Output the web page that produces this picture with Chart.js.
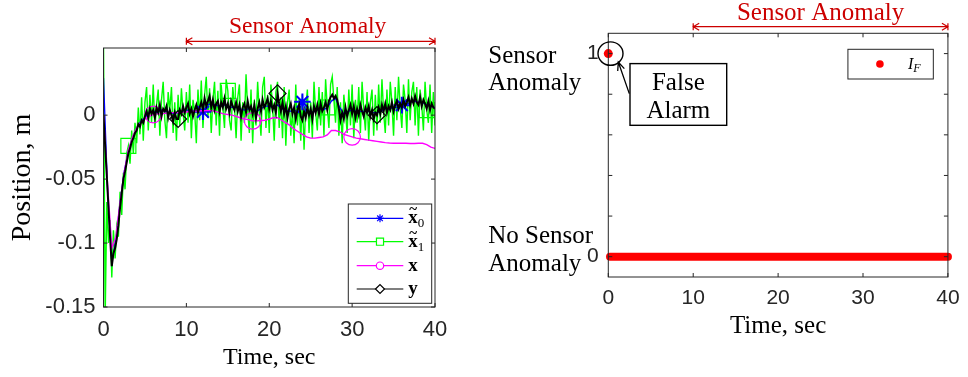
<!DOCTYPE html>
<html>
<head>
<meta charset="utf-8">
<script src="https://cdn.jsdelivr.net/npm/chart.js@4.4.0/dist/chart.umd.min.js"></script>
<style>
  html, body { margin: 0; padding: 0; background: #fff; }
  #wrap { position: relative; width: 968px; height: 377px; overflow: hidden; }
  canvas { position: absolute; top: 0; }
  #posChart { left: 0; }
  #flagChart { left: 470px; }
</style>
</head>
<body>
<div id="wrap">
  <canvas id="posChart" width="470" height="377"></canvas>
  <canvas id="flagChart" width="498" height="377"></canvas>
</div>
<script>
const timeTicks = [0, 10, 20, 30, 40]
const anomalyStart = 10
const anomalyEnd = 40

// position traces: x1 and y sampled every 0.2 s, x0 and x every 0.5 s
const fineStep = 0.2
const coarseStep = 0.5

const x0Est = [
  0.029, -0.06, -0.115, -0.098,
  -0.068, -0.044, -0.028, -0.018,
  -0.01, -0.005, -0.002, 0.002,
  0.003, 0.002, 0.004, 0.003,
  0.002, 0.001, 0.002, 0.003,
  0.004, 0.004, 0.003, 0.004,
  0.0026, 0.008, 0.009, 0.008,
  0.007, 0.008, 0.007, 0.006,
  0.006, 0.005, 0.004, 0.005,
  0.004, 0.003, 0.005, 0.007,
  0.007, 0.006, 0.008, 0.005,
  0.004, 0.003, 0.004, 0.002,
  0.0104, 0.002, 0.002, 0.003,
  0.005, 0.004, 0.006, 0.011,
  0.013, 0.006, 0.001, 0.003,
  0.004, 0.003, 0.003, 0.003,
  0.003, 0.002, 0.002, 0.003,
  0.005, 0.005, 0.006, 0.006,
  0.0078, 0.008, 0.01, 0.011,
  0.01, 0.01, 0.008, 0.007,
  0.006
]

const x1Est = [
  0.06, -0.16, -0.068, -0.1, -0.082, -0.127, -0.09, -0.112, -0.087, -0.095,
  -0.06, -0.078, -0.045, -0.058, -0.03, -0.024, -0.038, -0.012, -0.03, -0.006,
  -0.022, 0.006, -0.015, 0.014, -0.02, 0.01, 0.022, -0.012, 0.016, -0.006,
  0.024, -0.01, 0.008, 0.02, -0.016, 0.012, 0.026, -0.004, -0.018, 0.018,
  0.004, 0.022, -0.014, 0.01, -0.02, 0.016, -0.008, 0.021, 0.002, -0.012,
  0.018, -0.006, 0.024, -0.018, 0.012, 0.003, -0.022, 0.02, -0.004, 0.027,
  -0.01, 0.016, 0.03, -0.002, 0.021, -0.014, 0.012, 0.026, -0.008, 0.019,
  -0.016, 0.024, 0.006, -0.01, 0.028, 0.019, -0.004, -0.012, 0.022, 0.008,
  -0.018, 0.014, 0.024, -0.02, 0.01, -0.006, 0.032, 0.004, -0.014, 0.02,
  -0.022, 0.012, -0.008, 0.026, 0.002, -0.016, 0.022, 0.03, -0.01, 0.016,
  -0.014, 0.024, 0.008, -0.02, 0.018, 0.026, -0.01, 0.014, -0.018, 0.022,
  -0.024, 0.01, 0.02, -0.016, 0.004, -0.022, 0.024, -0.008, 0.012, -0.02,
  0.016, -0.027, 0.006, 0.02, -0.014, 0.01, -0.018, 0.026, 0.002, -0.012,
  0.022, -0.008, 0.018, -0.016, 0.028, 0.006, -0.01, 0.024, 0.03, 0.012,
  -0.006, 0.022, -0.016, 0.01, -0.022, 0.016, 0.002, -0.014, 0.02, -0.008,
  0.024, -0.018, 0.012, -0.006, 0.022, -0.014, 0.026, 0.004, -0.012, 0.018,
  -0.02, 0.01, 0.02, -0.016, 0.016, -0.012, 0.024, -0.006, 0.028, 0.002,
  -0.014, 0.02, -0.008, 0.026, 0.01, -0.016, 0.022, -0.004, 0.03, 0.006,
  -0.01, 0.024, 0.012, -0.014, 0.028, -0.004, 0.018, 0.026, -0.008, 0.022,
  -0.016, 0.02, 0.008, -0.012, 0.026, 0.004, -0.006, 0.024, -0.014, 0.018,
  -0.008
]

const xTrue = [
  0, -0.055, -0.104, -0.095,
  -0.068, -0.045, -0.027, -0.017,
  -0.01, -0.006, -0.003, -0.001,
  0.0005, 0.001, 0.001, 0.0015,
  0.002, 0.002, 0.002, 0.0022,
  0.0025, 0.003, 0.003, 0.0032,
  0.0034, 0.0035, 0.0035, 0.003,
  0.002, 0.001, 0.0005, 0,
  -0.001, -0.002, -0.003, -0.0035,
  -0.0045, -0.0045, -0.0042, -0.004,
  -0.003, -0.002, -0.002, -0.004,
  -0.006, -0.008, -0.011, -0.013,
  -0.015, -0.017, -0.018, -0.018,
  -0.0175, -0.017, -0.0155, -0.012,
  -0.012, -0.013, -0.015, -0.016,
  -0.017, -0.018, -0.0185, -0.019,
  -0.0195, -0.02, -0.0205, -0.021,
  -0.0215, -0.0218, -0.022, -0.022,
  -0.022, -0.022, -0.0222, -0.0222,
  -0.022, -0.022, -0.023, -0.025,
  -0.026
]

const yMeas = [
  0, -0.024, -0.048, -0.072, -0.096, -0.118, -0.108, -0.104, -0.097, -0.086,
  -0.072, -0.061, -0.05, -0.044, -0.037, -0.03, -0.026, -0.021, -0.018, -0.014,
  -0.012, -0.007, -0.009, -0.004, -0.006, -0.001, 0.003, -0.002, 0.005, 0.001,
  0.004, -0.002, 0.006, 0.002, 0.008, -0.001, 0.005, 0.003, 0.007, -0.002,
  0.004, 0, -0.005, 0.002, -0.003, -0.003, 0.004, 0.001, 0.007, 0.002,
  0.006, 0.009, 0.001, 0.005, -0.001, 0.004, 0.008, 0.002, 0.006, 0.01,
  0.004, 0.013, 0.007, 0.011, 0.015, 0.006, 0.012, 0.004, 0.009, 0.011,
  0.003, 0.01, 0.006, 0.013, 0.005, 0.009, 0.002, 0.011, 0.007, 0.004,
  0.01, 0.003, 0.008, -0.001, 0.006, 0.009, 0.002, 0.011, 0.004, 0.007,
  0.001, 0.008, -0.002, 0.005, 0.01, 0.003, 0.012, 0.006, 0.009, 0.013,
  0.005, 0.011, 0.004, 0.008, 0.002, 0.017, 0.009, 0.003, 0.01, 0.001,
  0.007, -0.002, 0.005, 0.009, 0.001, 0.006, -0.003, 0.004, 0.008, -0.001,
  -0.004, 0.003, -0.002, 0.006, 0, 0.005, -0.003, 0.007, 0.002, 0.008,
  0.001, 0.009, 0.003, 0.006, 0.01, 0.004, 0.011, 0.014, 0.016, 0.013,
  0.015, 0.012, 0.005, -0.004, 0.002, -0.003, 0.006, -0.001, 0.004, 0.008,
  0.001, 0.007, -0.002, 0.005, 0, 0.008, 0.003, -0.001, 0.006, 0.002,
  0.007, -0.001, 0.004, -0.003, 0.002, 0, 0.006, 0.001, 0.008, 0.003,
  0.009, 0.002, 0.007, 0.004, 0.01, 0.003, 0.008, 0.011, 0.005, 0.009,
  0.006, 0.012, 0.007, 0.01, 0.014, 0.008, 0.013, 0.009, 0.015, 0.01,
  0.008, 0.014, 0.007, 0.012, 0.009, 0.005, 0.011, 0.004, 0.009, 0.006,
  0.005
]

// times (s) where each trace carries a marker
const x0Marks = [12, 24, 36]
const x1Marks = [3, 15, 27, 39]
const xMarks = [6, 18, 30]
const yMarks = [9, 21, 33]

const posTicks = [-0.15, -0.1, -0.05, 0]
const posTickLabels = ['-0.15', '-0.1', '-0.05', '0']

// fault indicator I_F
const flagTimes = [0, 0.2, 40]
const flagValues = [1, 0, 0]
const flagTicks = [0, 0.2, 0.4, 0.6, 0.8, 1]
const flagTickLabels = ['0', '', '', '', '', '1']

const anomalyColor = '#cc0000'
const axisColor = '#262626'

Chart.defaults.font.family = 'Liberation Sans'
Chart.defaults.color = axisColor

function toPoints(values, step) {
  return values.map((v, i) => ({ x: i * step, y: v }))
}

function markerRadius(marks, r) {
  return ctx => (ctx.raw && marks.some(m => Math.abs(m - ctx.raw.x) < 1e-6)) ? r : 0
}

// box round the plot area with inward ticks on all four sides
const boxFrame = {
  id: 'boxFrame',
  afterDatasetsDraw(chart) {
    const { ctx, chartArea: a, scales } = chart
    const len = 4
    ctx.save()
    ctx.strokeStyle = axisColor
    ctx.lineWidth = 1
    ctx.strokeRect(a.left, a.top, a.right - a.left, a.bottom - a.top)
    ctx.beginPath()
    scales.x.ticks.forEach(t => {
      const px = scales.x.getPixelForValue(t.value)
      ctx.moveTo(px, a.bottom); ctx.lineTo(px, a.bottom - len)
      ctx.moveTo(px, a.top); ctx.lineTo(px, a.top + len)
    })
    scales.y.ticks.forEach(t => {
      const py = scales.y.getPixelForValue(t.value)
      ctx.moveTo(a.left, py); ctx.lineTo(a.left + len, py)
      ctx.moveTo(a.right, py); ctx.lineTo(a.right - len, py)
    })
    ctx.stroke()
    ctx.restore()
  }
}

// red double arrow marking the anomaly window
const anomalyBand = {
  id: 'anomalyBand',
  afterDraw(chart, args, o) {
    const { ctx, chartArea: a, scales: { x } } = chart
    const xa = x.getPixelForValue(anomalyStart)
    const xb = x.getPixelForValue(anomalyEnd)
    const ya = a.top - o.arrowGap
    ctx.save()
    ctx.strokeStyle = anomalyColor
    ctx.fillStyle = anomalyColor
    ctx.lineWidth = 1.2
    ctx.beginPath()
    ctx.moveTo(xa, ya); ctx.lineTo(xb, ya)
    ctx.moveTo(xa, ya - 3.5); ctx.lineTo(xa, ya + 3.5)
    ctx.moveTo(xb, ya - 3.5); ctx.lineTo(xb, ya + 3.5)
    ctx.moveTo(xa + 6, ya - 3.5); ctx.lineTo(xa, ya); ctx.lineTo(xa + 6, ya + 3.5)
    ctx.moveTo(xb - 6, ya - 3.5); ctx.lineTo(xb, ya); ctx.lineTo(xb - 6, ya + 3.5)
    ctx.stroke()
    ctx.font = o.size + 'px "Liberation Serif"'
    ctx.textAlign = 'center'
    ctx.textBaseline = 'alphabetic'
    ctx.fillText('Sensor Anomaly', (xa + xb) / 2 + o.shift, a.top - o.textGap)
    ctx.restore()
  }
}

// bold vector label with optional tilde and subscript
function drawVecLabel(ctx, x, y, letter, sub, tilde) {
  ctx.textAlign = 'left'
  ctx.textBaseline = 'alphabetic'
  ctx.font = 'bold 19px "Liberation Serif"'
  ctx.fillText(letter, x, y)
  const w = ctx.measureText(letter).width
  if (tilde) {
    ctx.font = 'bold 15px "Liberation Serif"'
    ctx.textAlign = 'center'
    ctx.fillText('~', x + w / 2, y - 9)
    ctx.textAlign = 'left'
  }
  if (sub) {
    ctx.font = '13px "Liberation Serif"'
    ctx.fillText(sub, x + w, y + 4)
  }
}

const posLegendItems = [
  { letter: 'x', sub: '0', tilde: true, r: 4 },
  { letter: 'x', sub: '1', tilde: true, r: 5 },
  { letter: 'x', sub: '', tilde: false, r: 3.7 },
  { letter: 'y', sub: '', tilde: false, r: 4.5 }
]

const posLegend = {
  id: 'posLegend',
  afterDraw(chart) {
    const { ctx, chartArea: a } = chart
    const bw = 83.4, bh = 99.3
    const bx = a.right - 3.3 - bw
    const by = a.bottom - 3.7 - bh
    const rows = [14.3, 37.7, 61.7, 85]
    ctx.save()
    ctx.fillStyle = '#fff'
    ctx.fillRect(bx, by, bw, bh)
    ctx.strokeStyle = axisColor
    ctx.lineWidth = 1
    ctx.strokeRect(bx, by, bw, bh)
    chart.data.datasets.forEach((ds, i) => {
      const item = posLegendItems[i]
      const ry = by + rows[i]
      ctx.strokeStyle = ds.borderColor
      ctx.lineWidth = 1.2
      ctx.beginPath()
      ctx.moveTo(bx + 8.4, ry); ctx.lineTo(bx + 55, ry)
      ctx.stroke()
      ctx.fillStyle = '#fff'
      Chart.helpers.drawPoint(ctx, { pointStyle: ds.pointStyle, radius: item.r, borderWidth: 1.2, rotation: 0 }, bx + 31.7, ry)
      ctx.fillStyle = '#000'
      drawVecLabel(ctx, bx + 60, ry + 5, item.letter, item.sub, item.tilde)
    })
    ctx.restore()
  }
}

function lineSet(values, step, color, width, style, marks, r, markWidth, order) {
  return {
    data: toPoints(values, step),
    borderColor: color,
    borderWidth: width,
    pointStyle: style,
    pointRadius: markerRadius(marks, r),
    pointBorderColor: color,
    pointBackgroundColor: 'rgba(0,0,0,0)',
    pointBorderWidth: markWidth,
    pointHitRadius: 0,
    tension: 0,
    order: order
  }
}

new Chart(document.getElementById('posChart'), {
  type: 'line',
  data: {
    datasets: [
      lineSet(x0Est, coarseStep, '#0000ff', 1.3, 'star', x0Marks, 8.3, 2, 2),
      lineSet(x1Est, fineStep, '#00ff00', 1.4, 'rect', x1Marks, 10.6, 1.2, 3),
      lineSet(xTrue, coarseStep, '#ff00ff', 1.4, 'circle', xMarks, 8.3, 1.2, 1),
      lineSet(yMeas, fineStep, '#000000', 2, 'rectRot', yMarks, 8.5, 1.2, 0)
    ]
  },
  options: {
    responsive: false,
    animation: false,
    events: [],
    layout: { padding: { left: 0, right: 35, top: 48, bottom: 0 } },
    plugins: {
      legend: { display: false },
      tooltip: { enabled: false },
      anomalyBand: { arrowGap: 6.7, textGap: 15.4, size: 23.5, shift: -3 }
    },
    scales: {
      x: {
        type: 'linear', min: 0, max: 40,
        afterBuildTicks: s => { s.ticks = timeTicks.map(v => ({ value: v })) },
        afterFit: s => { s.height = 70 },
        grid: { display: false, drawTicks: false },
        border: { display: false },
        ticks: { font: { size: 22 }, padding: 10, maxRotation: 0 },
        title: { display: true, text: 'Time, sec', color: '#000',
          font: { family: 'Liberation Serif', size: 24 }, padding: { top: 0, bottom: 4.6 } }
      },
      y: {
        type: 'linear', min: -0.15, max: 0.0525,
        afterBuildTicks: s => { s.ticks = posTicks.map(v => ({ value: v })) },
        afterFit: s => { s.width = 103.5 },
        grid: { display: false, drawTicks: false },
        border: { display: false },
        ticks: { font: { size: 22 }, padding: 8, callback: (v, i) => posTickLabels[i] },
        title: { display: true, text: 'Position, m', color: '#000',
          font: { family: 'Liberation Serif', size: 28 }, padding: { top: 5.4, bottom: 0 } }
      }
    }
  },
  plugins: [boxFrame, anomalyBand, posLegend]
})

// labels, false-alarm callout and legend of the indicator panel
const flagNotes = {
  id: 'flagNotes',
  afterDraw(chart) {
    const { ctx, chartArea: a, scales: { x, y } } = chart
    const x0 = x.getPixelForValue(0)
    const y1 = y.getPixelForValue(1)
    const y0 = y.getPixelForValue(0)
    ctx.save()
    ctx.fillStyle = '#000'
    ctx.strokeStyle = '#000'
    ctx.textBaseline = 'alphabetic'
    ctx.font = '25px "Liberation Serif"'
    ctx.textAlign = 'left'
    ctx.fillText('Sensor', 18.3, y1 + 9)
    ctx.fillText('Anomaly', 18.3, y1 + 36)
    ctx.fillText('No Sensor', 18.3, y0 - 13.4)
    ctx.fillText('Anomaly', 18.3, y0 + 14)

    // circle round the false alarm
    ctx.lineWidth = 1.4
    ctx.beginPath()
    ctx.ellipse(x0 + 2.2, y1, 12.5, 11.7, 0, 0, Math.PI * 2)
    ctx.stroke()

    // arrow from the callout to the circle
    const tx = x0 + 10, ty = y1 + 8.4
    const sx = x0 + 21, sy = y1 + 40
    const ang = Math.atan2(ty - sy, tx - sx)
    ctx.lineWidth = 1.3
    ctx.beginPath()
    ctx.moveTo(sx, sy); ctx.lineTo(tx, ty)
    ctx.moveTo(tx - 9 * Math.cos(ang - 0.4), ty - 9 * Math.sin(ang - 0.4))
    ctx.lineTo(tx, ty)
    ctx.lineTo(tx - 9 * Math.cos(ang + 0.4), ty - 9 * Math.sin(ang + 0.4))
    ctx.stroke()

    // callout box
    const bx = a.left + 21.7, by = y1 + 10, bw = 96.7, bh = 61.7
    ctx.fillStyle = '#fff'
    ctx.fillRect(bx, by, bw, bh)
    ctx.lineWidth = 1.4
    ctx.strokeRect(bx, by, bw, bh)
    ctx.fillStyle = '#000'
    ctx.textAlign = 'center'
    ctx.fillText('False', bx + bw / 2, by + 26.7)
    ctx.fillText('Alarm', bx + bw / 2, by + 54.4)

    // legend
    const lx = a.right - 100, ly = a.top + 16, lw = 85.4, lh = 29.7
    ctx.fillStyle = '#fff'
    ctx.fillRect(lx, ly, lw, lh)
    ctx.strokeStyle = axisColor
    ctx.lineWidth = 1
    ctx.strokeRect(lx, ly, lw, lh)
    ctx.fillStyle = '#ff0000'
    ctx.beginPath()
    ctx.arc(lx + 32, ly + 14.7, 3.8, 0, Math.PI * 2)
    ctx.fill()
    ctx.fillStyle = '#000'
    ctx.textAlign = 'left'
    ctx.font = 'italic 16px "Liberation Serif"'
    ctx.fillText('I', lx + 60, ly + 19.5)
    const iw = ctx.measureText('I').width
    ctx.font = 'italic 12px "Liberation Serif"'
    ctx.fillText('F', lx + 60 + iw, ly + 23)
    ctx.restore()
  }
}

new Chart(document.getElementById('flagChart'), {
  type: 'line',
  data: {
    datasets: [{
      data: flagTimes.map((t, i) => ({ x: t, y: flagValues[i] })),
      borderColor: '#ff0000',
      borderWidth: 8,
      borderCapStyle: 'round',
      segment: { borderColor: c => c.p0.parsed.y !== c.p1.parsed.y ? 'rgba(0,0,0,0)' : '#ff0000' },
      pointRadius: c => c.dataIndex === 0 ? 4.5 : 0,
      pointBackgroundColor: '#ff0000',
      pointBorderWidth: 0,
      pointHitRadius: 0,
      tension: 0,
      clip: false
    }]
  },
  options: {
    responsive: false,
    animation: false,
    events: [],
    layout: { padding: { left: 0, right: 15.7, top: 33.3, bottom: 0 } },
    plugins: {
      legend: { display: false },
      tooltip: { enabled: false },
      anomalyBand: { arrowGap: 6.6, textGap: 13.3, size: 25, shift: 0 }
    },
    scales: {
      x: {
        type: 'linear', min: 0, max: 40,
        afterBuildTicks: s => { s.ticks = timeTicks.map(v => ({ value: v })) },
        afterFit: s => { s.height = 100 },
        grid: { display: false, drawTicks: false },
        border: { display: false },
        ticks: { font: { size: 21 }, padding: 8.4, maxRotation: 0 },
        title: { display: true, text: 'Time, sec', color: '#000',
          font: { family: 'Liberation Serif', size: 25 }, padding: { top: 0, bottom: 36 } }
      },
      y: {
        type: 'linear', min: -0.1, max: 1.1,
        afterBuildTicks: s => { s.ticks = flagTicks.map(v => ({ value: v })) },
        afterFit: s => { s.width = 138.3 },
        grid: { display: false, drawTicks: false },
        border: { display: false },
        ticks: { font: { size: 21 }, padding: 9.5, callback: (v, i) => flagTickLabels[i] }
      }
    }
  },
  plugins: [boxFrame, anomalyBand, flagNotes]
})
</script>
</body>
</html>
